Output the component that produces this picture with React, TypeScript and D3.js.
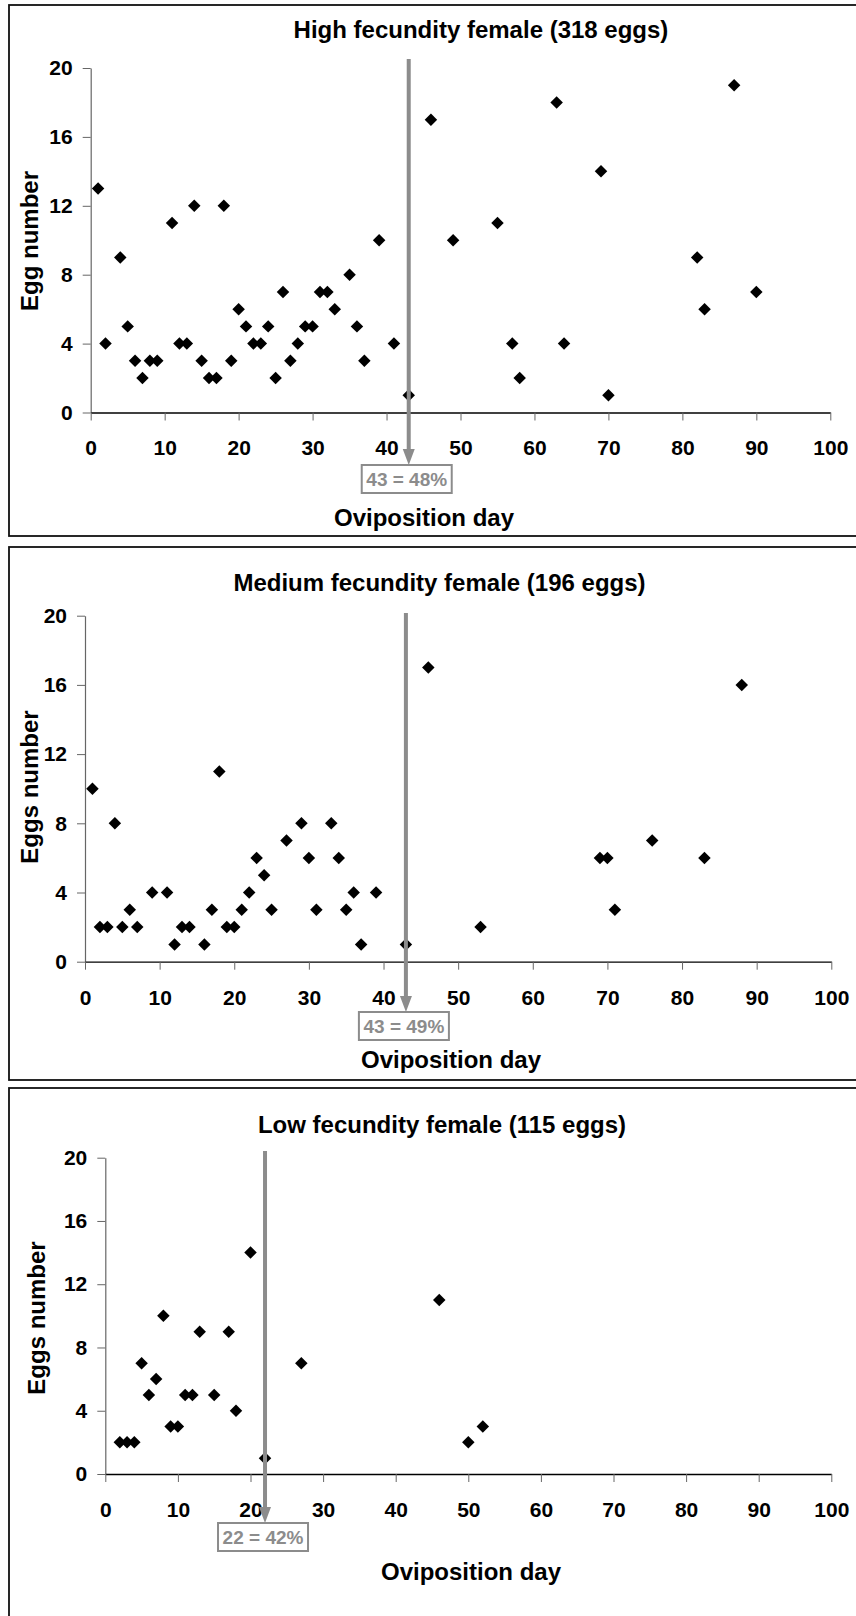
import * as d3 from 'd3';
import { useEffect, useRef } from 'react';

// Oviposition day / egg count per female
const highDays = [1, 2, 4, 5, 6, 7, 8, 9, 11, 12, 13, 14, 15, 16, 17, 18, 19, 20, 21, 22, 23, 24, 25, 26, 27, 28, 29, 30, 31, 32, 33, 35, 36, 37, 39, 41, 43, 46, 49, 55, 57, 58, 63, 64, 69, 70, 82, 83, 87, 90];
const highEggs = [13, 4, 9, 5, 3, 2, 3, 3, 11, 4, 4, 12, 3, 2, 2, 12, 3, 6, 5, 4, 4, 5, 2, 7, 3, 4, 5, 5, 7, 7, 6, 8, 5, 3, 10, 4, 1, 17, 10, 11, 4, 2, 18, 4, 14, 1, 9, 6, 19, 7];

const medDays = [1, 2, 3, 4, 5, 6, 7, 9, 11, 12, 13, 14, 16, 17, 18, 19, 20, 21, 22, 23, 24, 25, 27, 29, 30, 31, 33, 34, 35, 36, 37, 39, 43, 46, 53, 69, 70, 71, 76, 83, 88];
const medEggs = [10, 2, 2, 8, 2, 3, 2, 4, 4, 1, 2, 2, 1, 3, 11, 2, 2, 3, 4, 6, 5, 3, 7, 8, 6, 3, 8, 6, 3, 4, 1, 4, 1, 17, 2, 6, 6, 3, 7, 6, 16];

const lowDays = [2, 3, 4, 5, 6, 7, 8, 9, 10, 11, 12, 13, 15, 17, 18, 20, 22, 27, 46, 50, 52];
const lowEggs = [2, 2, 2, 7, 5, 6, 10, 3, 3, 5, 5, 9, 5, 9, 4, 14, 1, 7, 11, 2, 3];

const xTicks = [0, 10, 20, 30, 40, 50, 60, 70, 80, 90, 100];
const yTicks = [0, 4, 8, 12, 16, 20];

const titles = ['High fecundity female (318 eggs)', 'Medium fecundity female (196 eggs)', 'Low fecundity female (115 eggs)'];
const yLabels = ['Egg number', 'Eggs number', 'Eggs number'];
const markerDays = [43, 43, 22];
const markerLabels = ['43 = 48%', '43 = 49%', '22 = 42%'];

// pixel layout of each panel
const layouts = [
  { top: 5, bottom: 536, left: 90.7, right: 830.3, yTop: 68, yBottom: 412.5, titleX: 481, titleY: 38, yLabX: 38, yLabY: 241, xLabX: 424, xLabY: 526, lineTop: 59, tip: 465 },
  { top: 547, bottom: 1080, left: 85, right: 831.3, yTop: 615.7, yBottom: 961.7, titleX: 439.5, titleY: 591, yLabX: 38, yLabY: 787, xLabX: 451, xLabY: 1068, lineTop: 613, tip: 1012 },
  { top: 1088, bottom: 1640, left: 105.3, right: 831.3, yTop: 1157.7, yBottom: 1474, titleX: 442, titleY: 1133, yLabX: 45, yLabY: 1318, xLabX: 471, xLabY: 1580, lineTop: 1151, tip: 1523 },
];

const FONT = '"Liberation Sans", Arial, Helvetica, sans-serif';
const GREY = '#8c8c8c';

export default function App() {
  const svgRef = useRef<SVGSVGElement>(null);

  useEffect(() => {
    document.body.style.margin = '0';
    if (!svgRef.current) return;
    const svg = d3.select(svgRef.current);
    svg.selectAll('*').remove();

    const series = [
      { days: highDays, eggs: highEggs },
      { days: medDays, eggs: medEggs },
      { days: lowDays, eggs: lowEggs },
    ];

    series.forEach((s, i) => {
      const L = layouts[i];
      const g = svg.append('g');

      // frame (right edge runs off the page)
      g.append('rect')
        .attr('x', 9)
        .attr('y', L.top)
        .attr('width', 900)
        .attr('height', L.bottom - L.top)
        .attr('fill', 'none')
        .attr('stroke', '#111')
        .attr('stroke-width', 1.8);

      const x = d3.scaleLinear().domain([0, 100]).range([L.left, L.right]);
      const y = d3.scaleLinear().domain([0, 20]).range([L.yBottom, L.yTop]);

      const yAxis = g.append('g')
        .attr('transform', `translate(${L.left},0)`)
        .call(d3.axisLeft(y).tickValues(yTicks).tickSize(8).tickSizeOuter(0).tickPadding(10).tickFormat(d3.format('d')));
      yAxis.select('.domain').attr('stroke', '#666').attr('stroke-width', 1.2);
      yAxis.selectAll('.tick line').attr('stroke', '#666');
      yAxis.selectAll('text')
        .attr('fill', '#000')
        .style('font-family', FONT)
        .style('font-weight', 'bold')
        .style('font-size', '21px');

      const xAxis = g.append('g')
        .attr('transform', `translate(0,${L.yBottom})`)
        .call(d3.axisBottom(x).tickValues(xTicks).tickSize(8).tickSizeOuter(0).tickPadding(20).tickFormat(d3.format('d')));
      xAxis.select('.domain').attr('stroke', '#000').attr('stroke-width', 1.3);
      xAxis.selectAll('.tick line').attr('stroke', '#666');
      xAxis.selectAll('text')
        .attr('fill', '#000')
        .style('font-family', FONT)
        .style('font-weight', 'bold')
        .style('font-size', '21px');

      // diamonds
      const diamond = d3.symbol(d3.symbolSquare, 78);
      g.selectAll('path.pt')
        .data(s.days.map((d, k) => ({ day: d, eggs: s.eggs[k] })))
        .enter()
        .append('path')
        .attr('class', 'pt')
        .attr('d', diamond)
        .attr('transform', d => `translate(${x(d.day)},${y(d.eggs)}) rotate(45)`)
        .attr('fill', '#000');

      // median marker line with arrow
      const mx = x(markerDays[i]);
      const headLen = 16;
      g.append('line')
        .attr('x1', mx).attr('x2', mx)
        .attr('y1', L.lineTop).attr('y2', L.tip - headLen + 2)
        .attr('stroke', GREY)
        .attr('stroke-width', 4);
      g.append('path')
        .attr('d', `M${mx - 6},${L.tip - headLen}L${mx + 6},${L.tip - headLen}L${mx},${L.tip}Z`)
        .attr('fill', GREY);

      const boxW = 90;
      const boxH = 28;
      g.append('rect')
        .attr('x', mx - boxW / 2 - 2)
        .attr('y', L.tip)
        .attr('width', boxW)
        .attr('height', boxH)
        .attr('fill', '#fff')
        .attr('stroke', GREY)
        .attr('stroke-width', 2);
      g.append('text')
        .attr('x', mx - 2)
        .attr('y', L.tip + 21)
        .attr('text-anchor', 'middle')
        .attr('fill', GREY)
        .style('font-family', FONT)
        .style('font-weight', 'bold')
        .style('font-size', '19px')
        .text(markerLabels[i]);

      // titles
      g.append('text')
        .attr('x', L.titleX)
        .attr('y', L.titleY)
        .attr('text-anchor', 'middle')
        .style('font-family', FONT)
        .style('font-weight', 'bold')
        .style('font-size', '24px')
        .text(titles[i]);

      g.append('text')
        .attr('x', L.xLabX)
        .attr('y', L.xLabY)
        .attr('text-anchor', 'middle')
        .style('font-family', FONT)
        .style('font-weight', 'bold')
        .style('font-size', '24px')
        .text('Oviposition day');

      g.append('text')
        .attr('transform', `translate(${L.yLabX},${L.yLabY}) rotate(-90)`)
        .attr('text-anchor', 'middle')
        .style('font-family', FONT)
        .style('font-weight', 'bold')
        .style('font-size', '24px')
        .text(yLabels[i]);
    });
  }, []);

  return (
    <svg ref={svgRef} width={856} height={1616} style={{ display: 'block', background: '#fff' }}></svg>
  );
}
